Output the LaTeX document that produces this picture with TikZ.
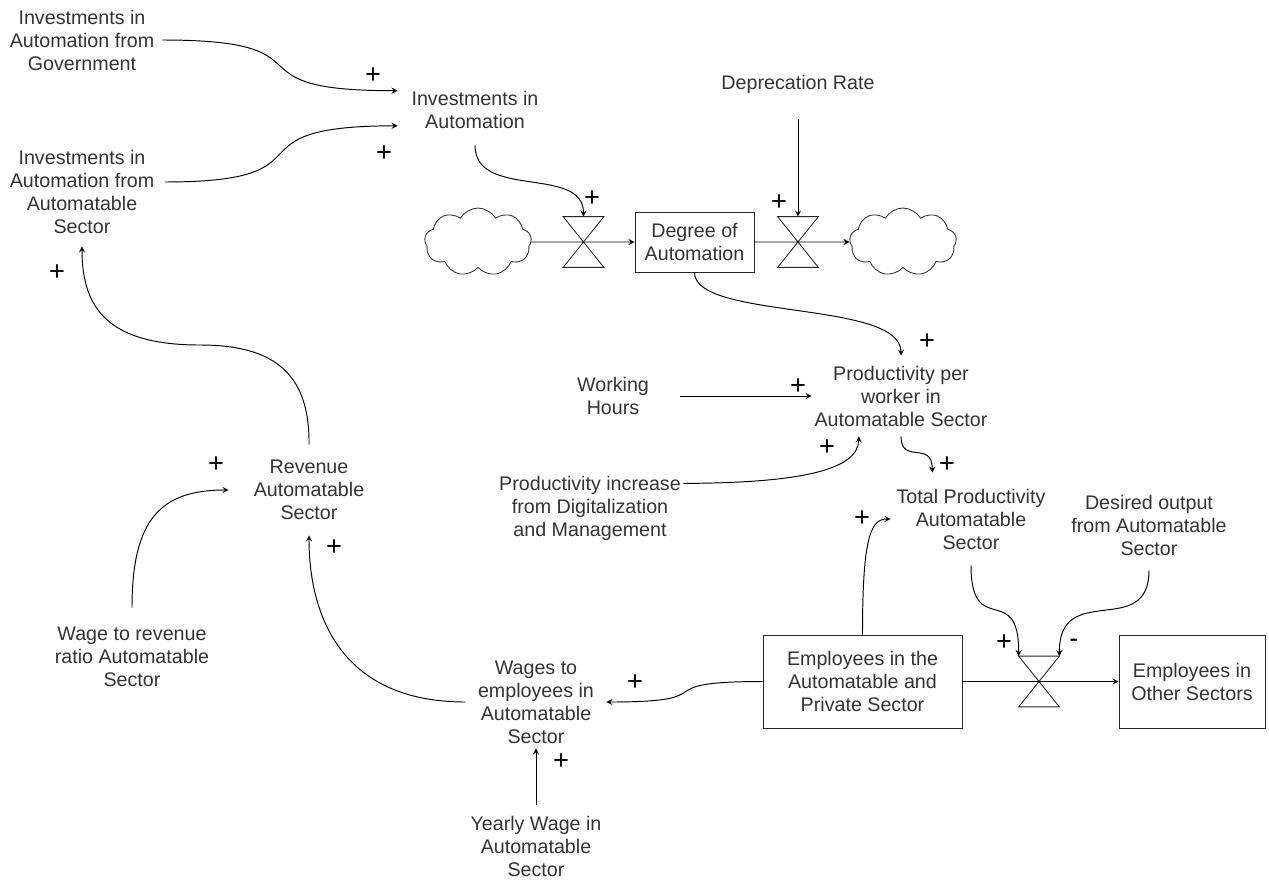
\documentclass[tikz,border=0pt]{standalone}
\usepackage{fontspec}
\setmainfont{Liberation Sans}
\usetikzlibrary{shapes.symbols}

\newcommand{\varfont}{\fontsize{11.2}{13.1}\selectfont}
\newcommand{\signfont}{\fontsize{15.5}{15.5}\selectfont}

\tikzset{
	var/.style={align=center, font=\varfont, text=black!80, inner sep=0pt},
	stock/.style={var, draw=black!85, line width=0.5pt},
	valve/.style={inner sep=0pt, minimum width=0.8cm, minimum height=1cm},
	sky/.style={cloud, draw=black!80, line width=0.5pt, cloud puffs=9, cloud puff arc=120, aspect=1.6, inner sep=0pt, minimum width=2.14cm, minimum height=1.36cm},
	link/.style={-stealth, line width=0.55pt},
	sign/.style={font=\signfont, inner sep=0pt}
}

\begin{document}
\begin{tikzpicture}[x=0.02cm, y=-0.02cm]
			\useasboundingbox (0,0) rectangle (1269,880);

			\node[var, minimum width=3.2cm, minimum height=1.2cm] (gov) at (82,40) {Investments in\\Automation from\\Government};
			\node[var, minimum width=3.3cm, minimum height=2.16cm] (autosec) at (82,192) {Investments in\\Automation from\\Automatable\\Sector};
			\node[var, minimum width=3.08cm, minimum height=1.4cm] (inv) at (475,110) {Investments in\\Automation};
			\node[var, minimum width=3.2cm, minimum height=1.4cm] (dep) at (798,84) {Deprecation Rate};

			\node[sky] (src) at (478,242) {};
			\node[valve] (vin) at (583.5,242) {};
			\node[stock, minimum width=2.38cm, minimum height=1.2cm] (doa) at (694.5,242) {Degree of\\Automation};
			\node[valve] (vout) at (798,242) {};
			\node[sky] (sink) at (903,242) {};

			\node[var, minimum width=2.68cm, minimum height=1.2cm] (hours) at (613,396) {Working\\Hours};
			\node[var, minimum width=3.56cm, minimum height=1.6cm] (prodw) at (901,396) {Productivity per\\worker in\\Automatable Sector};
			\node[var, minimum width=3.72cm, minimum height=1.6cm] (prodinc) at (590,508) {Productivity increase\\from Digitalization\\and Management};
			\node[var, minimum width=3.2cm, minimum height=1.84cm] (total) at (971,519) {Total Productivity\\Automatable\\Sector};
			\node[var, minimum width=3.2cm, minimum height=1.8cm] (desired) at (1149,525) {Desired output\\from Automatable\\Sector};

			\node[var, minimum width=3.2cm, minimum height=1.8cm] (rev) at (309,490) {Revenue\\Automatable\\Sector};
			\node[var, minimum width=3.2cm, minimum height=1.96cm] (ratio) at (132,657) {Wage to revenue\\ratio Automatable\\Sector};
			\node[var, minimum width=2.8cm, minimum height=1.84cm] (wages) at (536,702) {Wages to\\employees in\\Automatable\\Sector};
			\node[var, minimum width=2.8cm, minimum height=1.64cm] (yearly) at (536,846) {Yearly Wage in\\Automatable\\Sector};

			\node[stock, minimum width=3.98cm, minimum height=1.86cm] (emp) at (862.5,681.5) {Employees in the\\Automatable and\\Private Sector};
			\node[valve] (vemp) at (1039,681.5) {};
			\node[stock, minimum width=2.92cm, minimum height=1.86cm] (oth) at (1192,681.5) {Employees in\\Other Sectors};

			% valves
			\foreach \v in {vin,vout,vemp}
			{
				\draw[line width=0.5pt, black!85] (\v.north west) -- (\v.north east) -- (\v.south west) -- (\v.south east) -- cycle;
			}

			% signs
			\foreach \x/\y [count=\i] in {373/76, 384/154, 57/273, 592/199, 779/203, 927/342, 798/387, 827/448, 947/465, 862/519, 1004/643, 216/465, 334/548, 635/683, 561/762}
			{
				\node[sign] (plus_\i) at (\x,\y) {+};
			}
			\node[sign] (minus_1) at (1074,643) {-};

			% flows
			\draw[link] (src) -- (doa);
			\draw[link] (doa) -- (sink);
			\draw[link] (emp) -- (oth);

			% links
			\draw[link] (gov.east) .. controls (340,40) and (220,91) .. ([yshift=11pt]inv.west);
			\draw[link] ([yshift=5.7pt]autosec.east) .. controls (340,182) and (220,126) .. ([yshift=-9pt]inv.west);
			\draw[link] (rev.north) .. controls (310,370) and (270,345) .. (200,345) .. controls (110,345) and (82,310) .. (autosec.south);
			\draw[link] (inv.south) .. controls (475,200) and (583.5,165) .. (vin.north);
			\draw[link] (dep.south) -- (vout.north);
			\draw[link] (doa.south) .. controls (694.5,320) and (901,300) .. (prodw.north);
			\draw[link] (hours) -- (prodw);
			\draw[link] ([yshift=14pt]prodinc.east) .. controls (800,483) and (858,470) .. ([xshift=-24pt]prodw.south);
			\draw[link] (prodw.south) .. controls (901,465) and (932,440) .. ([xshift=-22pt]total.north);
			\draw[link] (emp.north) .. controls (862.5,540) and (870,519) .. (total.west);
			\draw[link] (total.south) .. controls (971,640) and (1019,580) .. (vemp.north west);
			\draw[link] (desired.south) .. controls (1149,640) and (1059,580) .. (vemp.north east);
			\draw[link] (emp.west) .. controls (640,681.5) and (730,702) .. (wages.east);
			\draw[link] (wages.west) .. controls (330,702) and (309,600) .. (rev.south);
			\draw[link] (ratio.north) .. controls (132,520) and (160,490) .. (rev.west);
			\draw[link] (yearly.north) -- (wages.south);
\end{tikzpicture}
\end{document}
